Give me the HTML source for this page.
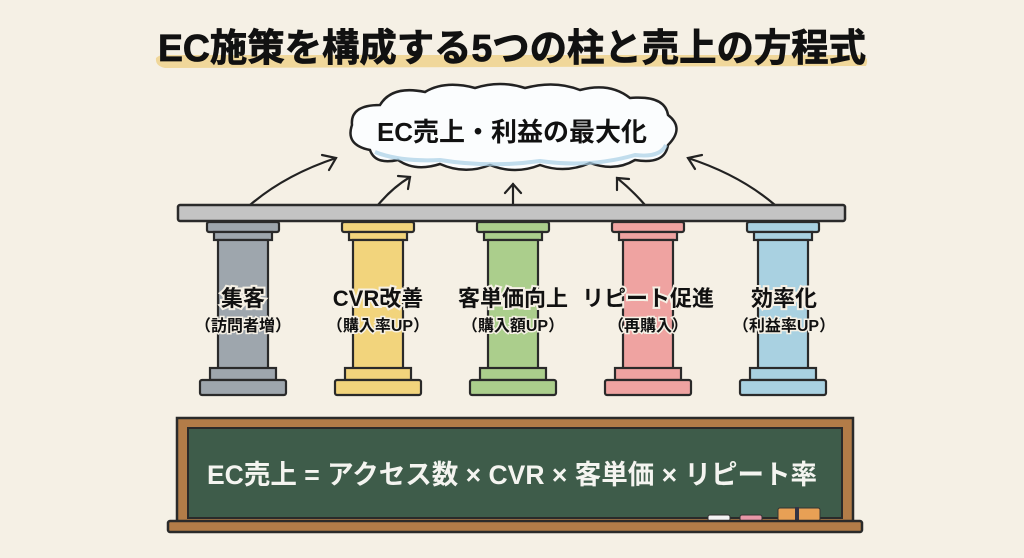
<!DOCTYPE html>
<html><head><meta charset="utf-8"><style>
html,body{margin:0;padding:0;background:#f5f0e5;}
svg{display:block;}
text{font-family:"Liberation Sans","Noto Sans CJK JP",sans-serif;font-weight:bold;}
</style></head><body>
<svg width="1024" height="558" viewBox="0 0 1024 558" xmlns="http://www.w3.org/2000/svg">
<rect width="1024" height="558" fill="#f5f0e5"/>
<!-- title -->
<path d="M156 58 Q160 54 170 55 L860 55 Q870 57 866 66 L165 68 Q155 66 156 58Z" fill="#f0d79a"/>
<text x="512" y="61" font-size="38" text-anchor="middle" textLength="708" lengthAdjust="spacingAndGlyphs" fill="#111" stroke="#111" stroke-width="0.8">EC施策を構成する5つの柱と売上の方程式</text>
<!-- cloud -->
<path d="M370 150 Q345 145 352 125 Q350 105 380 105 Q392 85 425 92 Q445 80 475 88 Q500 80 525 88 Q555 80 580 90 Q610 82 630 98 Q665 95 668 115 Q685 128 668 145 Q665 165 635 160 Q615 172 590 163 Q565 174 540 165 Q515 175 490 165 Q465 175 440 164 Q415 172 398 160 Q375 165 370 150Z" fill="#fbfdfe" stroke="#222" stroke-width="2.5"/>
<path d="M375 152 Q400 162 440 160 Q490 168 540 161 Q590 168 635 155 Q660 158 666 145" fill="none" stroke="#a8cfe6" stroke-width="4" opacity=".7"/>
<text x="512" y="141" font-size="26" text-anchor="middle" fill="#111">EC売上・利益の最大化</text>
<!-- arrows -->
<g fill="none" stroke="#222" stroke-width="2.2" stroke-linecap="round">
<path d="M250 205 Q285 175 336 158"/><path d="M322 155 L336 158 L329 170"/>
<path d="M378 205 Q392 188 410 177"/><path d="M398 176 L410 177 L408 189"/>
<path d="M513 205 L513 184"/><path d="M505 193 L513 184 L521 193"/>
<path d="M645 205 Q632 190 617 178"/><path d="M617 190 L617 178 L629 179"/>
<path d="M775 205 Q740 175 688 158"/><path d="M695 169 L688 158 L702 155"/>
</g>
<!-- beam -->
<rect x="178" y="205" width="667" height="16" rx="2" fill="#c4c4c4" stroke="#2a2a2a" stroke-width="2.5"/>
<!-- pillars -->
<g stroke="#2a2a2a" stroke-width="2.2">
<g fill="#9ea6ad"><rect x="207" y="222" width="72" height="10" rx="2"/><rect x="214" y="232" width="58" height="8"/><rect x="218" y="240" width="50" height="130"/><rect x="210" y="368" width="66" height="12"/><rect x="200" y="380" width="86" height="15" rx="2"/></g>
<g fill="#f2d47c"><rect x="342" y="222" width="72" height="10" rx="2"/><rect x="349" y="232" width="58" height="8"/><rect x="353" y="240" width="50" height="130"/><rect x="345" y="368" width="66" height="12"/><rect x="335" y="380" width="86" height="15" rx="2"/></g>
<g fill="#abce8c"><rect x="477" y="222" width="72" height="10" rx="2"/><rect x="484" y="232" width="58" height="8"/><rect x="488" y="240" width="50" height="130"/><rect x="480" y="368" width="66" height="12"/><rect x="470" y="380" width="86" height="15" rx="2"/></g>
<g fill="#efa3a1"><rect x="612" y="222" width="72" height="10" rx="2"/><rect x="619" y="232" width="58" height="8"/><rect x="623" y="240" width="50" height="130"/><rect x="615" y="368" width="66" height="12"/><rect x="605" y="380" width="86" height="15" rx="2"/></g>
<g fill="#a9d1e1"><rect x="747" y="222" width="72" height="10" rx="2"/><rect x="754" y="232" width="58" height="8"/><rect x="758" y="240" width="50" height="130"/><rect x="750" y="368" width="66" height="12"/><rect x="740" y="380" width="86" height="15" rx="2"/></g>
</g>
<g font-size="22" text-anchor="middle" fill="#111" stroke="#f5f0e5" stroke-width="4" paint-order="stroke">
<text x="243" y="306">集客</text><text x="378" y="306">CVR改善</text><text x="513" y="306">客単価向上</text><text x="648" y="306">リピート促進</text><text x="784" y="306">効率化</text>
</g>
<g font-size="16" text-anchor="middle" fill="#111" stroke="#f5f0e5" stroke-width="3" paint-order="stroke">
<text x="243" y="331">（訪問者増）</text><text x="378" y="331">（購入率UP）</text><text x="513" y="331">（購入額UP）</text><text x="648" y="331">（再購入）</text><text x="784" y="331">（利益率UP）</text>
</g>
<!-- chalkboard -->
<rect x="177" y="418" width="676" height="104" fill="#b27c48" stroke="#2a2a2a" stroke-width="2.5"/>
<rect x="188" y="428" width="654" height="90" fill="#3e5c4a" stroke="#2a2a2a" stroke-width="2"/>
<text x="512" y="484" font-size="27" text-anchor="middle" fill="#f4f4f0" textLength="610" lengthAdjust="spacingAndGlyphs">EC売上 = アクセス数 × CVR × 客単価 × リピート率</text>
<rect x="708" y="515" width="22" height="6" rx="2" fill="#f4f4f4" stroke="#333"/>
<rect x="740" y="515" width="22" height="6" rx="2" fill="#e898a8" stroke="#333"/>
<rect x="778" y="508" width="42" height="13" rx="2" fill="#e8a055" stroke="#333"/>
<rect x="795" y="507" width="4" height="14" fill="#334"/>
<rect x="168" y="521" width="694" height="11" rx="2" fill="#b27c48" stroke="#2a2a2a" stroke-width="2.5"/>
</svg>
</body></html>
